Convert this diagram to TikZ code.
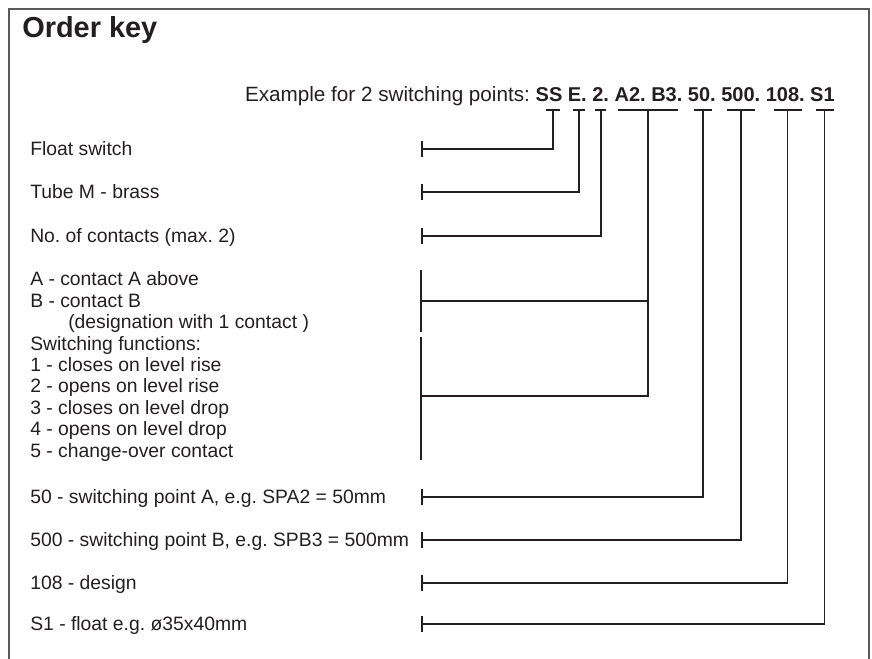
\documentclass[tikz,border=0pt]{standalone}
\usepackage{fontspec}
\setmainfont{Liberation Sans}
\usetikzlibrary{arrows.meta}
\definecolor{keyline}{HTML}{231F20}
\definecolor{framegray}{HTML}{5A5A5A}
\frenchspacing

\begin{document}
\begin{tikzpicture}[
    x=0.75pt, y=-0.75pt,
    keytitle/.style={anchor=base west, inner sep=0pt, text=keyline, font=\fontsize{21.7}{26}\selectfont\bfseries},
    codetext/.style={anchor=base east, inner sep=0pt, text=keyline, font=\fontsize{15.5}{18}\selectfont},
    rowtext/.style={anchor=base west, inner sep=0pt, text=keyline, font=\fontsize{14.5}{17}\selectfont},
    leader/.style={draw=keyline, line width=1.4pt}
]
  \useasboundingbox (0,0) rectangle (872,659);
  \draw[framegray, line width=0.8pt] (9,670) |- (869,9) -- (869,670);

  \node[keytitle] (title) at (22,38) {Order key};
  \node[codetext] (example) at (835,102) {Example for 2 switching points: {\fontsize{15}{18}\selectfont\bfseries SS E. 2. A2. B3. 50. 500. 108. S1}};

  % descriptions
  \node[rowtext] (float) at (30,155.5) {Float switch};
  \node[rowtext] (tube) at (30,198.5) {Tube M - brass};
  \node[rowtext] (contacts) at (30,242.5) {No. of contacts (max. 2)};
  \node[rowtext] (contA) at (30,286) {A - contact A above};
  \node[rowtext] (contB) at (30,307.4) {B - contact B};
  \node[rowtext] (desig) at (68,328.8) {(designation with 1 contact )};
  \node[rowtext] (swfun) at (30,350.2) {Switching functions:};
  \node[rowtext] (fun1) at (30,371.6) {1 - closes on level rise};
  \node[rowtext] (fun2) at (30,393) {2 - opens on level rise};
  \node[rowtext] (fun3) at (30,414.4) {3 - closes on level drop};
  \node[rowtext] (fun4) at (30,435.8) {4 - opens on level drop};
  \node[rowtext] (fun5) at (30,457.2) {5 - change-over contact};
  \node[rowtext] (spa) at (30,503.5) {50 - switching point A, e.g. SPA2 = 50mm};
  \node[rowtext] (spb) at (30,546.5) {500 - switching point B, e.g. SPB3 = 500mm};
  \node[rowtext] (design) at (30,589.5) {108 - design};
  \node[rowtext] (floatsize) at (30,630.5) {S1 - float e.g. ø35x40mm};

  % leader ends
  \coordinate (rFloat) at (421,149);
  \coordinate (rTube) at (421,192);
  \coordinate (rCont) at (421,236);
  \coordinate (rA) at (421,301);
  \coordinate (rFun) at (421,396);
  \coordinate (rSpa) at (421,497);
  \coordinate (rSpb) at (421,540);
  \coordinate (rDesign) at (421,583);
  \coordinate (rS1) at (421,624);
  \coordinate (bTop) at (421,270);
  \coordinate (bMid1) at (421,332);
  \coordinate (bMid2) at (421,337);
  \coordinate (bBot) at (421,460);

  \coordinate (cSS) at (552.7,109);
  \coordinate (cE) at (579,109);
  \coordinate (cNo) at (600.7,109);
  \coordinate (cAB) at (648,109);
  \coordinate (cSpa) at (703,109);
  \coordinate (cSpb) at (741,109);
  \coordinate (cDesign) at (787.5,109);
  \coordinate (cS1) at (824.5,109);

  \draw[leader, {Bar[width=12pt]}-{Bar[width=10.5pt]}] (rFloat) -| (cSS);
  \draw[leader, {Bar[width=12pt]}-{Bar[width=9pt]}] (rTube) -| (cE);
  \draw[leader, {Bar[width=12pt]}-{Bar[width=8.5pt]}] (rCont) -| (cNo);
  \draw[leader, -{Bar[width=45pt]}] (rFun) -| (cAB);
  \draw[leader] (rA) -- (rA -| cAB);
  \draw[leader] (bTop) -- (bMid1);
  \draw[leader] (bMid2) -- (bBot);
  \draw[leader, {Bar[width=12pt]}-{Bar[width=13.5pt]}] (rSpa) -| (cSpa);
  \draw[leader, {Bar[width=12pt]}-{Bar[width=21pt]}] (rSpb) -| (cSpb);
  \draw[leader, {Bar[width=12pt]}-{Bar[width=21pt]}] (rDesign) -| (cDesign);
  \draw[leader, {Bar[width=12pt]}-{Bar[width=13.5pt]}] (rS1) -| (cS1);
\end{tikzpicture}
\end{document}
